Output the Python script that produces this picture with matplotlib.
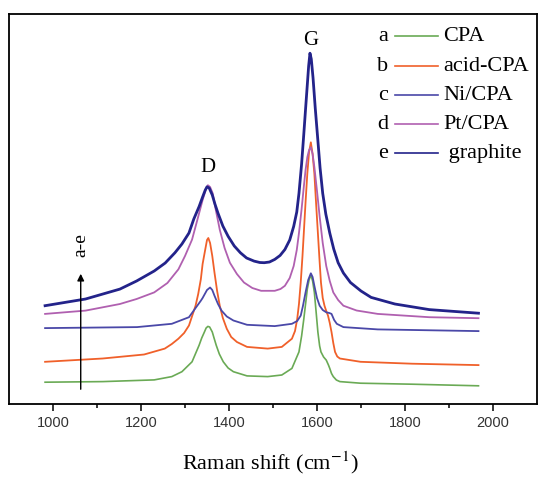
import numpy as np
import matplotlib.pyplot as plt

plt.rcParams['font.family'] = ['Liberation Serif', 'DejaVu Serif']
plt.rcParams['mathtext.fontset'] = 'stix'

# Raman spectra (offset stacked, arbitrary units)
a_x = [982, 1113, 1230, 1270, 1293, 1316, 1332, 1338, 1344, 1348, 1352, 1356, 1362, 1366, 1371,
       1378, 1387, 1398, 1410, 1441, 1488, 1520, 1543, 1559, 1565, 1570, 1574, 1578, 1582, 1586,
       1590, 1594, 1598, 1602, 1606, 1609, 1615, 1621, 1626, 1629, 1633, 1637, 1644, 1652, 1699,
       1816, 1967]
a_y = [21.8, 22.4, 24.1, 27.4, 32.3, 42.2, 58.7, 66.0, 71.9, 76.0, 77.6, 77.0, 72.0, 66.0, 58.7,
       50.0, 42.2, 36.0, 32.3, 28.1, 27.4, 29.0, 35.6, 52.1, 68.0, 85.0, 100.0, 115.0, 124.0, 129.0,
       123.0, 111.6, 92.0, 71.9, 58.0, 52.1, 47.0, 43.9, 39.0, 35.6, 30.5, 27.4, 24.0, 22.4, 20.8,
       19.8, 18.2]

b_x = [982, 1113, 1207, 1254, 1270, 1285, 1298, 1309, 1324, 1330, 1336, 1340, 1346, 1350, 1353,
       1357, 1362, 1367, 1373, 1379, 1386, 1395, 1405, 1418, 1441, 1488, 1520, 1543, 1550, 1555,
       1559, 1563, 1567, 1570, 1574, 1578, 1582, 1586, 1590, 1594, 1598, 1602, 1606, 1609, 1613,
       1617, 1621, 1625, 1629, 1633, 1637, 1641, 1646, 1652, 1699, 1816, 1967]
b_y = [42.2, 45.5, 49.5, 55.4, 60.0, 65.3, 71.0, 78.5, 98.3, 110.0, 124.8, 140.0, 154.5, 164.0, 166.0,
       161.0, 148.0, 131.4, 113.0, 98.3, 86.0, 75.2, 67.0, 62.0, 57.1, 55.4, 57.1, 65.3, 73.0, 85.0,
       100.0, 121.5, 148.0, 171.0, 202.0, 230.4, 252.0, 261.7, 250.0, 230.4, 200.0, 171.0, 142.0, 121.5, 106.0,
       98.3, 93.0, 88.4, 81.0, 71.9, 61.0, 52.1, 47.5, 45.5, 42.2, 40.3, 38.9]

c_x = [982, 1191, 1270, 1309, 1336, 1340, 1350, 1357, 1362, 1367, 1375, 1383, 1395, 1410, 1441,
       1504, 1543, 1555, 1563, 1568, 1574, 1580, 1586, 1590, 1594, 1600, 1606, 1613, 1621, 1628,
       1633, 1639, 1645, 1660, 1738, 1967]
c_y = [75.9, 76.9, 80.2, 86.8, 103.3, 106.0, 114.0, 116.5, 114.0, 108.3, 100.0, 93.4, 87.5, 83.5, 79.2,
       77.9, 80.2, 83.0, 88.4, 98.0, 111.6, 124.0, 130.7, 127.0, 118.2, 106.0, 98.3, 94.0, 91.7, 91.0,
       90.1, 84.0, 80.2, 76.9, 74.6, 72.9]

d_x = [982, 1074, 1152, 1190, 1230, 1260, 1285, 1300, 1316, 1328, 1340, 1347, 1352, 1357, 1363,
       1370, 1379, 1390, 1402, 1418, 1434, 1453, 1473, 1504, 1517, 1527, 1538, 1547, 1554, 1559,
       1565, 1570, 1574, 1578, 1582, 1586, 1590, 1594, 1600, 1606, 1613, 1621, 1629, 1637, 1648,
       1660, 1690, 1738, 1855, 1967]
d_y = [90.1, 93.4, 100.0, 105.0, 111.6, 121.0, 134.7, 148.0, 164.4, 184.0, 204.0, 214.0, 218.8, 217.0, 210.6,
       194.0, 174.3, 156.0, 141.3, 130.0, 121.5, 116.0, 113.2, 113.2, 115.0, 118.2, 126.0, 138.0, 154.0, 171.0,
       195.0, 217.2, 234.0, 246.9, 254.0, 256.8, 250.0, 237.0, 213.0, 187.5, 161.0, 138.0, 123.0, 111.6, 104.0,
       98.3, 93.5, 90.1, 86.8, 85.8]

e_x = [982, 1074, 1152, 1190, 1230, 1255, 1277, 1293, 1309, 1320, 1332, 1340, 1346, 1350, 1355,
       1362, 1368, 1375, 1386, 1398, 1412, 1426, 1440, 1457, 1470, 1480, 1492, 1504, 1516, 1527,
       1538, 1547, 1554, 1559, 1565, 1570, 1574, 1578, 1581, 1584, 1587, 1591, 1596, 1602, 1607,
       1613, 1620, 1629, 1638, 1648, 1660, 1676, 1700, 1723, 1777, 1855, 1967]
e_y = [98.3, 105.0, 114.9, 123.0, 133.0, 141.0, 151.2, 160.0, 171.0, 185.0, 197.4, 207.0, 213.9, 217.2, 216.0,
       209.0, 200.0, 190.8, 178.0, 167.7, 158.0, 151.2, 146.0, 142.9, 141.5, 141.3, 142.0, 144.6, 148.5, 154.5,
       164.0, 177.6, 192.0, 210.6, 240.0, 270.0, 295.0, 319.5, 338.0, 350.8, 345.0, 326.1, 296.0, 263.4, 236.0,
       210.6, 190.0, 171.0, 155.0, 141.3, 131.0, 121.5, 113.0, 106.6, 100.0, 94.4, 90.8]

letters = ["a", "b", "c", "d", "e"]
names = ["CPA", "acid-CPA", "Ni/CPA", "Pt/CPA", " graphite"]
colors = ["#6aaa55", "#f0602a", "#4a48a8", "#b060b0", "#23238a"]
widths = [1.2, 1.3, 1.3, 1.3, 2.0]
series = [(a_x, a_y), (b_x, b_y), (c_x, c_y), (d_x, d_y), (e_x, e_y)]

fig = plt.figure(figsize=(5.39, 4.81), dpi=100)
ax = fig.add_axes([0.0167, 0.158, 0.9796, 0.8108])

for (xs, ys), col, lw in zip(series, colors, widths):
    ax.plot(xs, ys, color=col, lw=lw, solid_joinstyle='round')

ax.set_xlim(900, 2100)
ax.set_ylim(0, 390)
ax.set_xticks([1000, 1200, 1400, 1600, 1800, 2000])
ax.set_xticks(np.arange(1100, 2100, 200), minor=True)
ax.set_yticks([])
ax.tick_params(axis='x', which='major', direction='out', length=5, width=1.1, pad=3)
ax.tick_params(axis='x', which='minor', direction='out', length=3, width=1.1)
for lab in ax.get_xticklabels():
    lab.set_fontfamily('Liberation Sans')
    lab.set_fontsize(10.5)
    lab.set_color('#333333')
for sp in ax.spines.values():
    sp.set_linewidth(1.3)

ax.set_xlabel(r'Raman shift (cm$^{-1}$)', fontsize=16)
ax.xaxis.set_label_coords(0.495, -0.115)

# peak labels
ax.text(1352, 238, "D", fontsize=15, ha='center', va='center')
ax.text(1586, 365, "G", fontsize=15, ha='center', va='center')

# stacking arrow
ax.annotate("", xy=(1063, 133), xytext=(1063, 12),
            arrowprops=dict(arrowstyle='-|>', color='black', lw=1.0, mutation_scale=10))
ax.text(1063, 160, "a-e", rotation=90, fontsize=14, ha='center', va='center')

# legend drawn by hand: letter, line, name
rows = [0.944, 0.867, 0.793, 0.718, 0.644]
for yy, let, name, col in zip(rows, letters, names, colors):
    ax.text(0.708, yy, let, transform=ax.transAxes, fontsize=16, ha='center', va='center')
    ax.plot([0.731, 0.8125], [yy, yy], transform=ax.transAxes, color=col, lw=1.2)
    ax.text(0.822, yy, name, transform=ax.transAxes, fontsize=16, ha='left', va='center')

fig.savefig("out.png", dpi=100)
